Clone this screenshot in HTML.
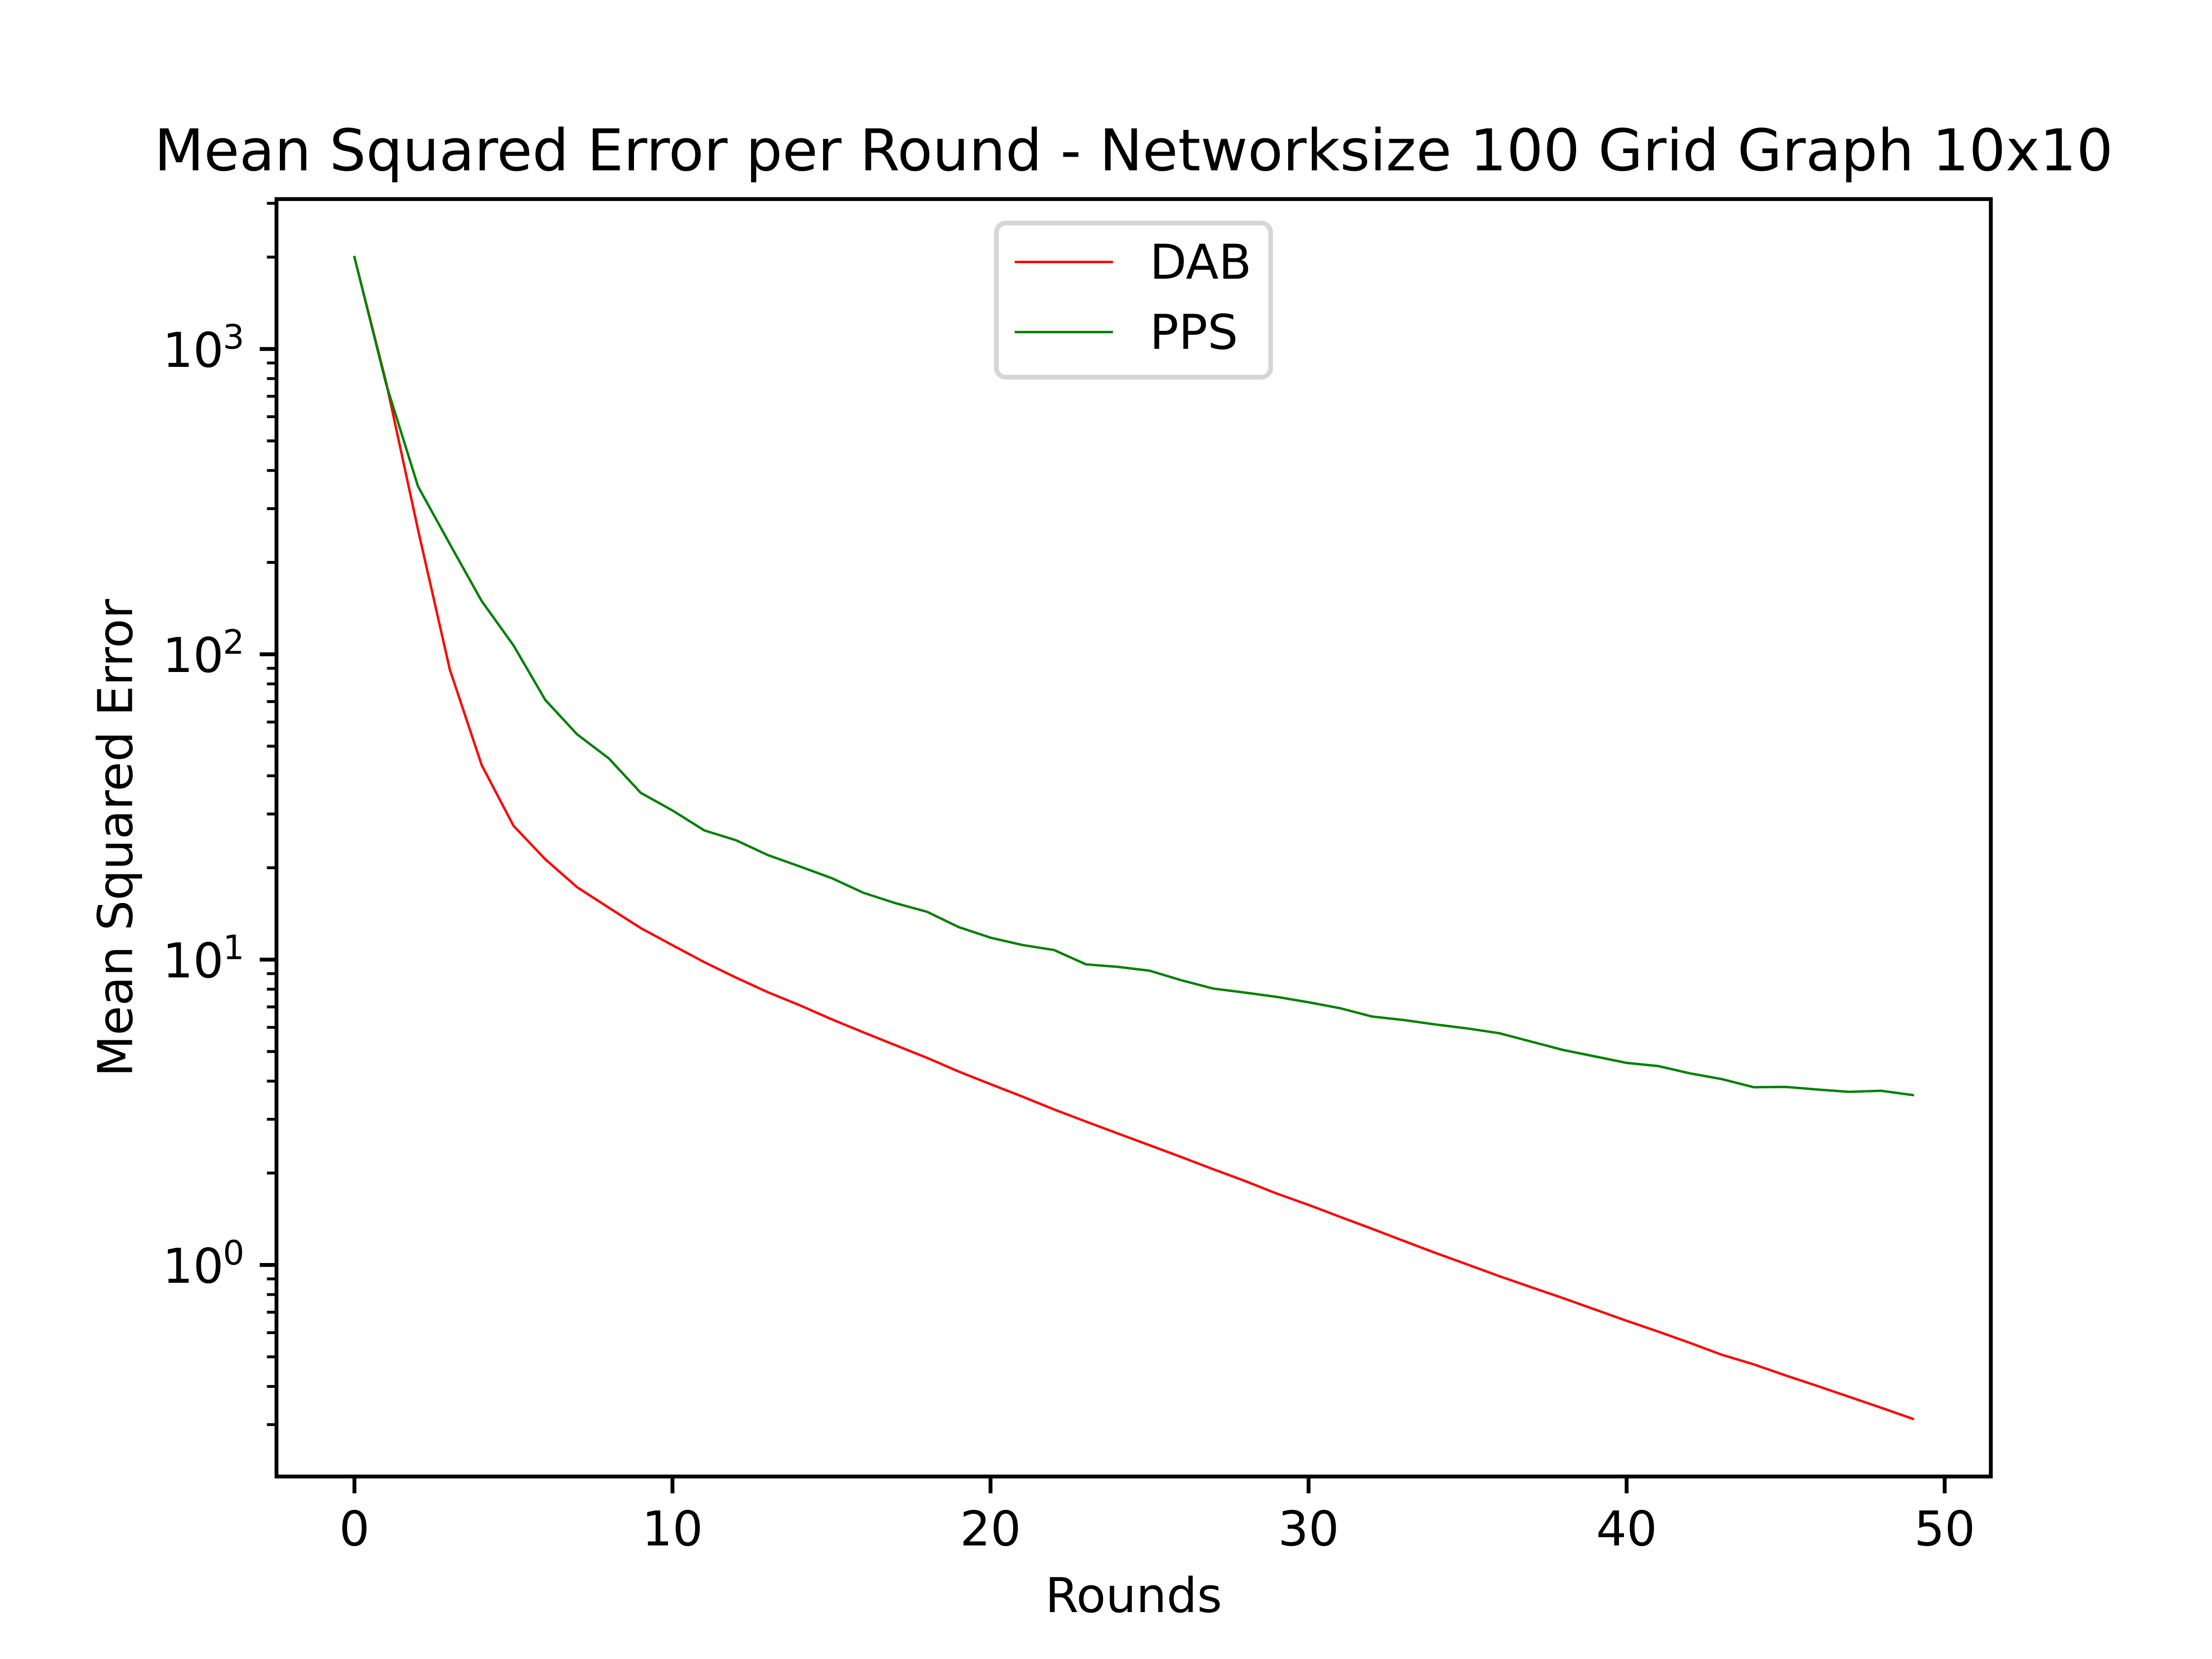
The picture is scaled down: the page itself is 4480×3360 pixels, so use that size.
<!DOCTYPE html>
<html lang="en">
<head>
<meta charset="utf-8">
<title>Mean Squared Error per Round</title>
<style>
html,body{margin:0;padding:0;background:#fff;}
svg{display:block;}
text{font-family:"DejaVu Sans","Liberation Sans",sans-serif;fill:#000;text-rendering:geometricPrecision;}
</style>
</head>
<body>
<svg id="chart" xmlns="http://www.w3.org/2000/svg" width="4480" height="3360" viewBox="0 0 4480 3360">
  <rect x="0" y="0" width="4480" height="3360" fill="#ffffff"/>
  <rect x="560" y="403.2" width="3472" height="2587.2" fill="#ffffff"/>
  <g id="ticks"></g>
  <g id="series"></g>
  <rect x="560" y="403.2" width="3472" height="2587.2" fill="none" stroke="#000" stroke-width="7.78"/>
  <text x="2296" y="345" font-size="116.67" text-anchor="middle">Mean Squared Error per Round - Networksize 100 Grid Graph 10x10</text>
  <text x="2296" y="3265" font-size="97.22" text-anchor="middle">Rounds</text>
  <text x="267.5" y="1697" font-size="97.22" text-anchor="middle" transform="rotate(-90 267.5 1697)">Mean Squared Error</text>
  <g id="legend">
    <rect x="2018" y="451.7" width="555.5" height="312.3" rx="19.4" ry="19.4" fill="#ffffff" stroke="#d6d6d6" stroke-width="9.72"/>
    <line x1="2055" y1="530.6" x2="2254" y2="530.6" stroke="#ff0000" stroke-width="4.86"/>
    <text x="2328.5" y="564.5" font-size="97.22">DAB</text>
    <line x1="2055" y1="672.6" x2="2254" y2="672.6" stroke="#008000" stroke-width="4.86"/>
    <text x="2328.5" y="706.5" font-size="97.22">PPS</text>
  </g>
</svg>
<script>
const rounds = [0,1,2,3,4,5,6,7,8,9,10,11,12,13,14,15,16,17,18,19,20,21,22,23,24,25,26,27,28,29,30,31,32,33,34,35,36,37,38,39,40,41,42,43,44,45,46,47,48,49];
const dabValues = [2000,775.5,255.7,89.1,43.4,27.45,21.32,17.27,14.79,12.69,11.15,9.81,8.73,7.82,7.09,6.38,5.78,5.25,4.77,4.30,3.91,3.56,3.23,2.949,2.696,2.467,2.256,2.059,1.884,1.713,1.573,1.436,1.313,1.198,1.094,1.003,0.9186,0.8454,0.7789,0.7149,0.6563,0.6047,0.5551,0.5077,0.4724,0.4346,0.4014,0.3698,0.3407,0.3133];
const ppsValues = [2000,765.5,354.8,229.6,149.5,107.0,70.9,54.7,45.6,35.2,30.8,26.5,24.6,22.0,20.2,18.5,16.56,15.32,14.35,12.78,11.80,11.17,10.75,9.65,9.47,9.20,8.56,8.04,7.80,7.55,7.25,6.93,6.51,6.34,6.13,5.95,5.74,5.39,5.06,4.82,4.59,4.48,4.24,4.06,3.82,3.83,3.755,3.69,3.72,3.60];
const xTickValues = [0,10,20,30,40,50];
const yTickExponents = [0,1,2,3];
const yMinorFactors = [2,3,4,5,6,7,8,9];
const yMinorExponents = [-1,0,1,2,3];
const xDomain = [-2.45,51.45];
const yLogDomain = [-0.6929,3.4910];

const SVG_NS = 'http://www.w3.org/2000/svg';
const plotLeft = 560, plotRight = 4032, plotTop = 403.2, plotBottom = 2990.4;

function xScale(v) {
  return plotLeft + (v - xDomain[0]) / (xDomain[1] - xDomain[0]) * (plotRight - plotLeft);
}
function yScale(v) {
  return plotBottom - (Math.log10(v) - yLogDomain[0]) / (yLogDomain[1] - yLogDomain[0]) * (plotBottom - plotTop);
}
function make(tag, attrs, parent) {
  const el = document.createElementNS(SVG_NS, tag);
  Object.keys(attrs).forEach(function (k) { el.setAttribute(k, attrs[k]); });
  parent.appendChild(el);
  return el;
}

const tickGroup = document.getElementById('ticks');
const seriesGroup = document.getElementById('series');

xTickValues.forEach(function (v) {
  const x = xScale(v);
  const tick = make('line', {x1: x, y1: plotBottom, x2: x, y2: plotBottom + 34, stroke: '#000', 'stroke-width': 7.78}, tickGroup);
  
  
  const label = make('text', {x: x, y: 3130, 'font-size': 97.22, 'text-anchor': 'middle'}, tickGroup);
  label.textContent = String(v);
  
  
});

yTickExponents.forEach(function (e) {
  const y = yScale(Math.pow(10, e));
  const tick = make('line', {x1: plotLeft, y1: y, x2: plotLeft - 34, y2: y, stroke: '#000', 'stroke-width': 7.78}, tickGroup);
  
  
  const base = make('text', {x: 453, y: y + 36, 'font-size': 97.22, 'text-anchor': 'end'}, tickGroup);
  base.textContent = '10';
  
  
  const sup = make('text', {x: 451.5, y: y - 1, 'font-size': 68.05}, tickGroup);
  sup.textContent = String(e);
  
  
});

yMinorExponents.forEach(function (e) {
  yMinorFactors.forEach(function (f) {
    const v = f * Math.pow(10, e);
    const y = yScale(v);
    if (y < plotTop || y > plotBottom) return;
    const tick = make('line', {x1: plotLeft, y1: y, x2: plotLeft - 19.4, y2: y, stroke: '#000', 'stroke-width': 5.83}, tickGroup);
    
    
  });
});

function drawSeries(values, color, name) {
  const pts = rounds.map(function (r, i) {
    return xScale(r).toFixed(2) + ',' + yScale(values[i]).toFixed(2);
  }).join(' ');
  const line = make('polyline', {points: pts, fill: 'none', stroke: color, 'stroke-width': 4.86, 'stroke-linejoin': 'round', 'stroke-linecap': 'square'}, seriesGroup);
  
  
}
drawSeries(dabValues, '#ff0000', 'dab-line');
drawSeries(ppsValues, '#008000', 'pps-line');
</script>
</body>
</html>
